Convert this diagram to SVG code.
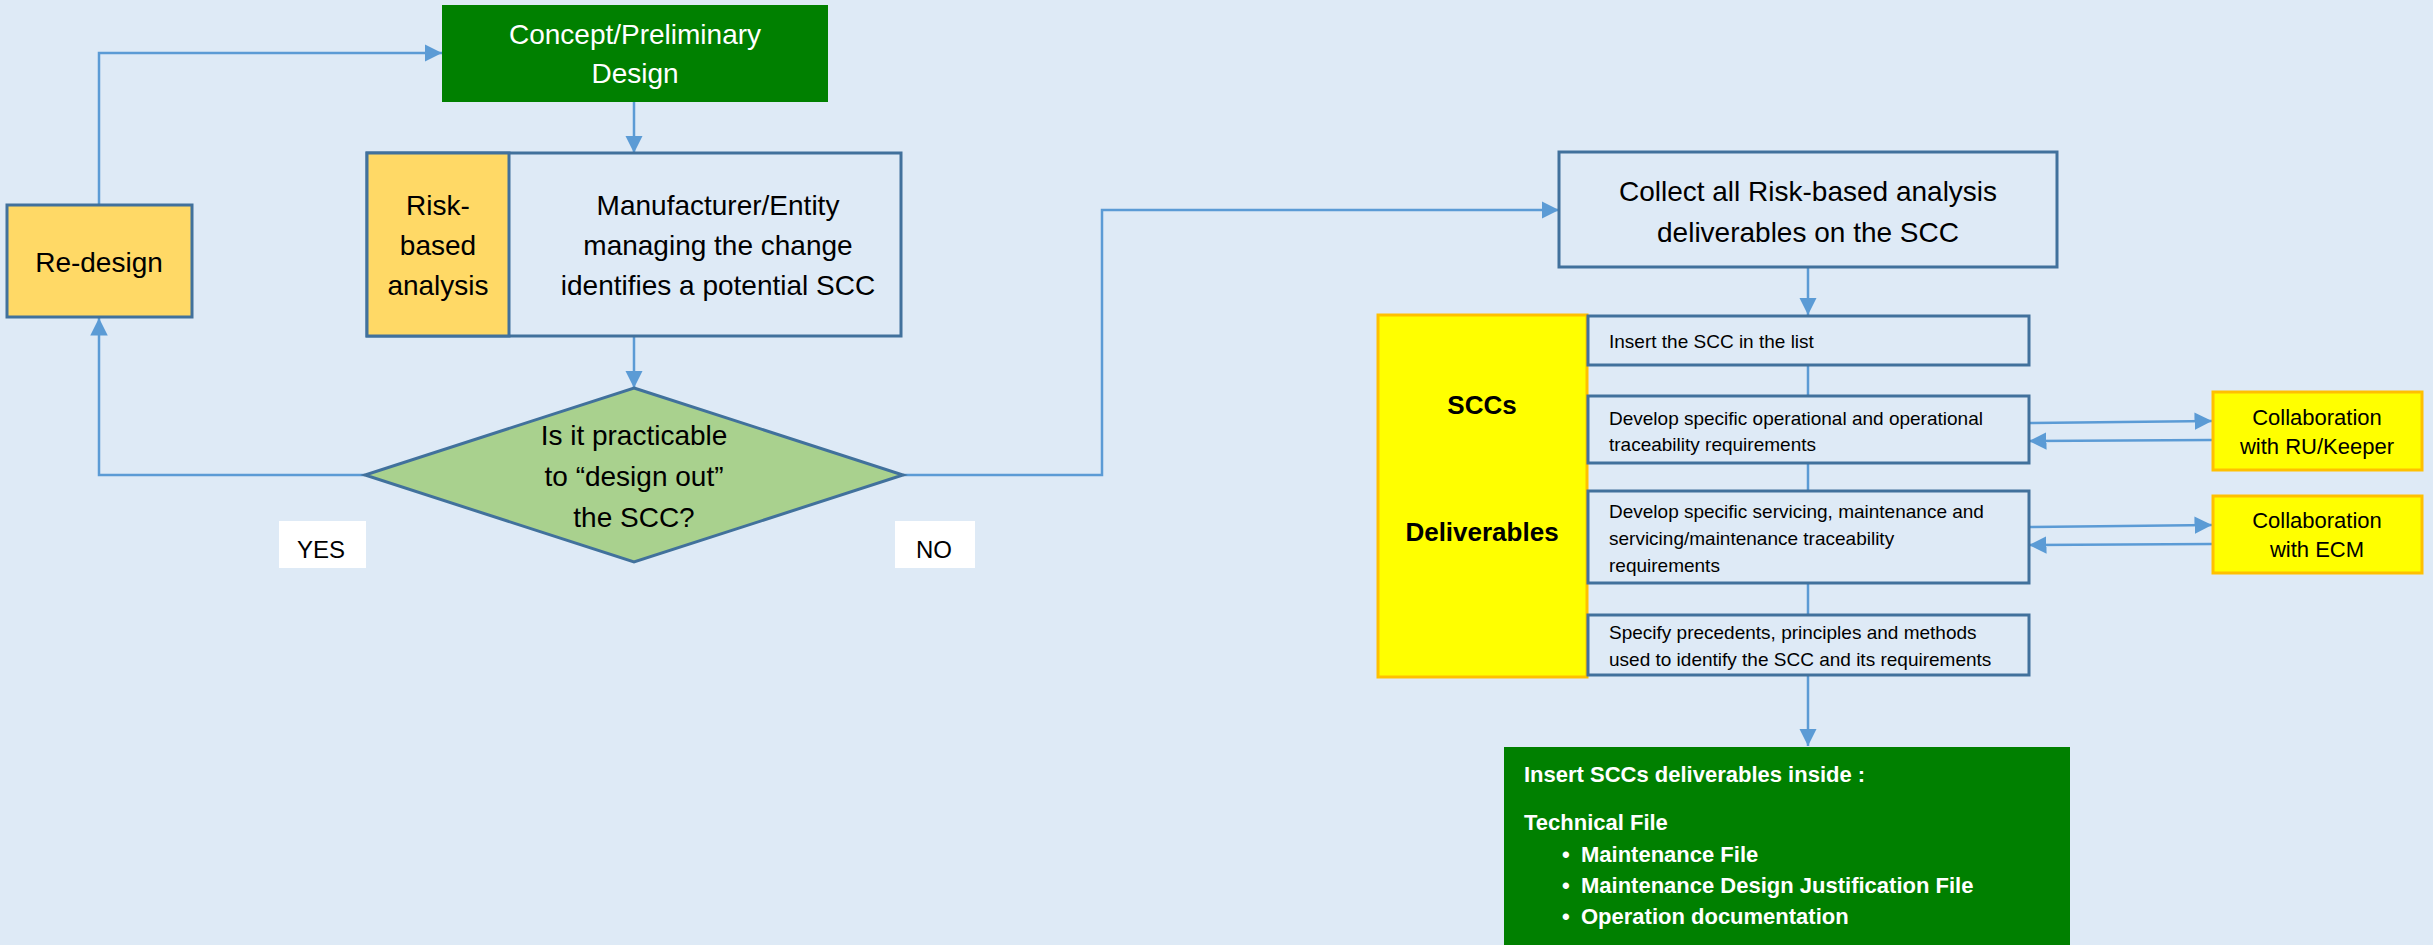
<svg xmlns="http://www.w3.org/2000/svg" width="2433" height="945" viewBox="0 0 2433 945">
  <style>
    text { font-family: "Liberation Sans", Arial, sans-serif; fill: #000; }
    .box { fill: #DEEAF6; stroke: #41719C; stroke-width: 3; }
    .amber { fill: #FFD966; stroke: #41719C; stroke-width: 3; }
    .yellow { fill: #FFFF00; stroke: #FFC000; stroke-width: 3; }
    .green { fill: #008000; }
    .link { fill: none; stroke: #5B9BD5; stroke-width: 2.5; }
    .arrow { marker-end: url(#head); }
    .t28 { font-size: 28px; text-anchor: middle; }
    .t19 { font-size: 19px; }
    .white { fill: #FFFFFF; }
    .wb { fill: #FFFFFF; font-weight: bold; font-size: 22px; }
  </style>
  <defs>
    <marker id="head" viewBox="0 0 10 10" refX="10" refY="5" markerWidth="7" markerHeight="7" orient="auto">
      <path d="M0,0 L10,5 L0,10 Z" fill="#5B9BD5"/>
    </marker>
  </defs>

  <rect width="2433" height="945" fill="#DEEAF6"/>

  <!-- connectors -->
  <g id="connectors">
    <path class="link arrow" d="M634,102 V153"/>
    <path class="link arrow" d="M634,336 V388"/>
    <path class="link arrow" d="M365,475 H99 V318"/>
    <path class="link arrow" d="M99,205 V53 H442"/>
    <path class="link arrow" d="M903,475 H1102 V210 H1559"/>
    <path class="link arrow" d="M1808,267 V315"/>
    <path class="link" d="M1808,365 V396"/>
    <path class="link" d="M1808,463 V491"/>
    <path class="link" d="M1808,583 V615"/>
    <path class="link arrow" d="M1808,675 V746"/>
    <path class="link arrow" d="M2029,423 L2212,421"/>
    <path class="link arrow" d="M2212,440 L2029,441"/>
    <path class="link arrow" d="M2029,527 L2212,525"/>
    <path class="link arrow" d="M2212,544 L2029,545"/>
  </g>

  <!-- Concept / Preliminary Design -->
  <g id="concept">
    <rect class="green" x="442" y="5" width="386" height="97"/>
    <text class="t28 white" x="635" y="44">Concept/Preliminary</text>
    <text class="t28 white" x="635" y="83">Design</text>
  </g>

  <!-- Re-design -->
  <g id="redesign">
    <rect class="amber" x="7" y="205" width="185" height="112"/>
    <text class="t28" x="99" y="272">Re-design</text>
  </g>

  <!-- Manufacturer identifies potential SCC -->
  <g id="identify">
    <rect class="box" x="367" y="153" width="534" height="183"/>
    <rect class="amber" x="367" y="153" width="142" height="183"/>
    <text class="t28" x="438" y="215">Risk-</text>
    <text class="t28" x="438" y="255">based</text>
    <text class="t28" x="438" y="295">analysis</text>
    <text class="t28" x="718" y="215">Manufacturer/Entity</text>
    <text class="t28" x="718" y="255">managing the change</text>
    <text class="t28" x="718" y="295">identifies a potential SCC</text>
  </g>

  <!-- Decision -->
  <g id="decision">
    <polygon points="634,388 903,475 634,562 365,475" fill="#A9D18E" stroke="#41719C" stroke-width="3"/>
    <text class="t28" x="634" y="445">Is it practicable</text>
    <text class="t28" x="634" y="486">to “design out”</text>
    <text class="t28" x="634" y="527">the SCC?</text>
  </g>

  <!-- YES / NO labels -->
  <g id="yes">
    <rect x="279" y="521" width="87" height="47" fill="#FFFFFF"/>
    <text x="321" y="558" font-size="24" text-anchor="middle">YES</text>
  </g>
  <g id="no">
    <rect x="895" y="521" width="80" height="47" fill="#FFFFFF"/>
    <text x="934" y="558" font-size="24" text-anchor="middle">NO</text>
  </g>

  <!-- Collect deliverables -->
  <g id="collect">
    <rect class="box" x="1559" y="152" width="498" height="115"/>
    <text class="t28" x="1808" y="201">Collect all Risk-based analysis</text>
    <text class="t28" x="1808" y="242">deliverables on the SCC</text>
  </g>

  <!-- SCCs Deliverables -->
  <g id="deliverables">
    <rect class="yellow" x="1378" y="315" width="209" height="362"/>
    <text x="1482" y="414" font-size="26" font-weight="bold" text-anchor="middle">SCCs</text>
    <text x="1482" y="541" font-size="26" font-weight="bold" text-anchor="middle">Deliverables</text>
  </g>

  <g id="step-insert">
    <rect class="box" x="1588" y="316" width="441" height="49"/>
    <text class="t19" x="1609" y="348">Insert the SCC in the list</text>
  </g>

  <g id="step-operational">
    <rect class="box" x="1588" y="396" width="441" height="67"/>
    <text class="t19" x="1609" y="425">Develop specific operational and operational</text>
    <text class="t19" x="1609" y="451">traceability requirements</text>
  </g>

  <g id="step-maintenance">
    <rect class="box" x="1588" y="491" width="441" height="92"/>
    <text class="t19" x="1609" y="518">Develop specific servicing, maintenance and</text>
    <text class="t19" x="1609" y="545">servicing/maintenance traceability</text>
    <text class="t19" x="1609" y="572">requirements</text>
  </g>

  <g id="step-precedents">
    <rect class="box" x="1588" y="615" width="441" height="60"/>
    <text class="t19" x="1609" y="639">Specify precedents, principles and methods</text>
    <text class="t19" x="1609" y="666">used to identify the SCC and its requirements</text>
  </g>

  <!-- Collaborations -->
  <g id="collab-ru">
    <rect class="yellow" x="2213" y="392" width="209" height="78"/>
    <text x="2317" y="425" font-size="22" text-anchor="middle">Collaboration</text>
    <text x="2317" y="454" font-size="22" text-anchor="middle">with RU/Keeper</text>
  </g>
  <g id="collab-ecm">
    <rect class="yellow" x="2213" y="496" width="209" height="77"/>
    <text x="2317" y="528" font-size="22" text-anchor="middle">Collaboration</text>
    <text x="2317" y="557" font-size="22" text-anchor="middle">with ECM</text>
  </g>

  <!-- Final insertion -->
  <g id="insert-files">
    <rect class="green" x="1504" y="747" width="566" height="198"/>
    <text class="wb" x="1524" y="782">Insert SCCs deliverables inside :</text>
    <text class="wb" x="1524" y="830">Technical File</text>
    <text class="wb" x="1562" y="862">•</text>
    <text class="wb" x="1581" y="862">Maintenance File</text>
    <text class="wb" x="1562" y="893">•</text>
    <text class="wb" x="1581" y="893">Maintenance Design Justification File</text>
    <text class="wb" x="1562" y="924">•</text>
    <text class="wb" x="1581" y="924">Operation documentation</text>
  </g>
</svg>
